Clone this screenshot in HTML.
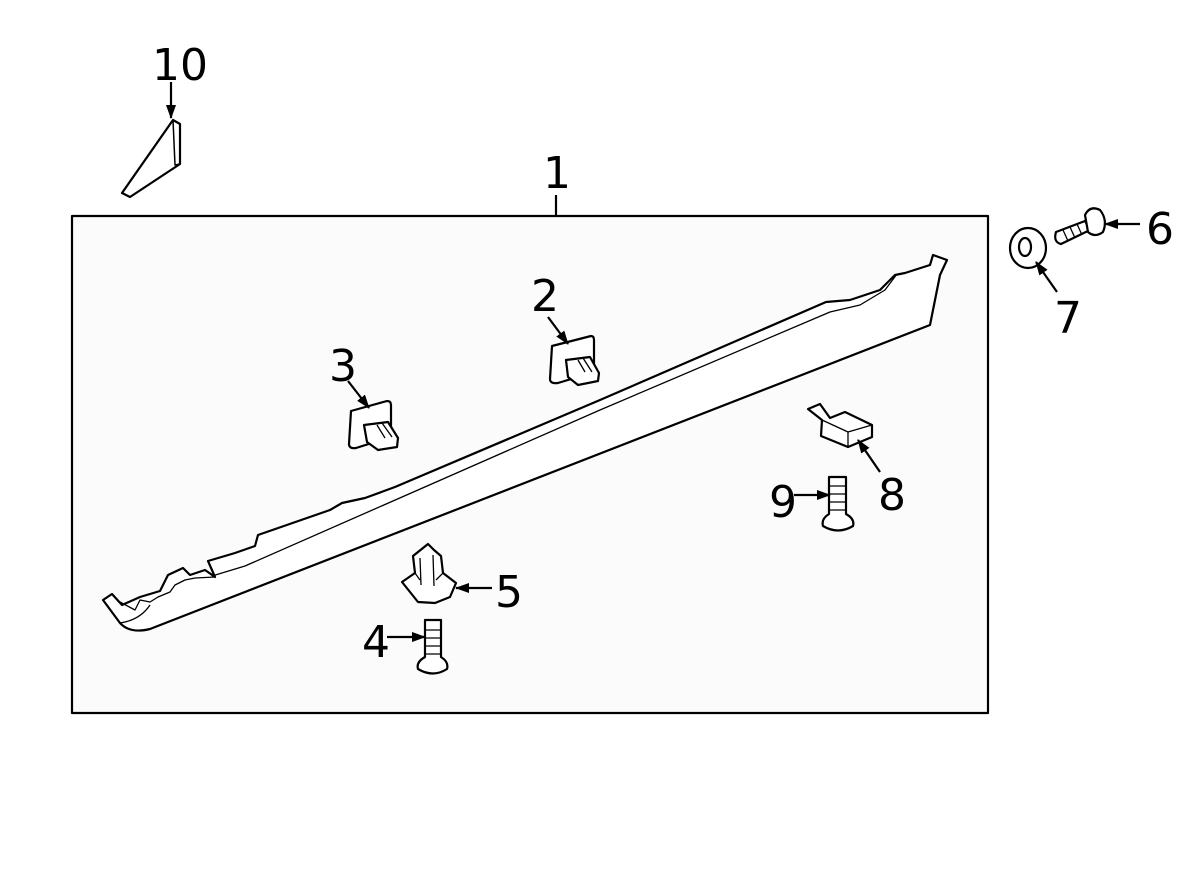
<!DOCTYPE html>
<html><head><style>
html,body{margin:0;padding:0;background:#fff;}
svg{display:block;font-family:"DejaVu Sans","Liberation Sans",sans-serif;}
</style></head><body>
<svg width="1200" height="882" viewBox="0 0 1200 882" xmlns="http://www.w3.org/2000/svg">
<defs><marker id="a" markerWidth="14" markerHeight="12" refX="13" refY="6" orient="auto" markerUnits="userSpaceOnUse"><path d="M0,1 L14,6 L0,11 z" fill="#000"/></marker></defs>
<g stroke="#000" fill="none" stroke-width="2.2" stroke-linejoin="round">
<rect x="72" y="216" width="916" height="497" fill="#fbfbfb"/>
<line x1="556" y1="195" x2="556" y2="216"/>
<path d="M122,193 L173,120 L180,124 L180,164 L130,197 Z" fill="#fff"/>
<path d="M173,120 L175,165 L180,164" stroke-width="1.5"/>
<line x1="171" y1="82" x2="171" y2="118" marker-end="url(#a)"/>
<path d="M103,600 L112,594 L122,605 L140,597 L160,591 L168,575 L183,568 L190,575 L205,570 L215,577 L208,561 L235,553 L255,546 L258,535 L330,510 L342,503 L365,498 L395,487 L600,400 L826,302 L850,300 L880,290 L895,275 L905,273 L930,265 L933,255 L947,260 L940,275 L932,315 L930,325 L150,629 Q130,634 120,623 Z" fill="#fff"/>
<path d="M212,576 L245,566 L600,410 L830,312 L860,305 L885,290 L897,274" stroke-width="1.3"/>
<path d="M120,602 L135,610 L140,600 L150,602 L158,597 L170,592 L175,585 L185,580 L195,578 L215,577" stroke-width="1.3"/>
<path d="M120,623 Q140,620 150,605" stroke-width="1.3"/>
<path d="M552,346 L591,336 Q594,336 594,340 L594,372 L558,383 Q550,384 550,379 Z" fill="#fff"/>
<path d="M566,360 L590,357 L599,373 L598,381 L578,385 L568,377 Z" fill="#fff"/>
<path d="M578,360 L585,372 M583,358 L592,372" stroke-width="1.3"/>
<line x1="548" y1="317" x2="568" y2="344" marker-end="url(#a)"/>
<path d="M351,411 L387,401 Q391,401 391,405 L391,437 L356,448 Q349,449 349,444 Z" fill="#fff"/>
<path d="M364,425 L388,422 L398,438 L397,447 L378,450 L367,442 Z" fill="#fff"/>
<path d="M377,425 L385,438 M382,423 L392,437" stroke-width="1.3"/>
<line x1="348" y1="381" x2="369" y2="408" marker-end="url(#a)"/>
<path d="M402,582 L415,573 L413,556 L423,548 L428,544 L434,550 L441,556 L443,573 L456,583 L450,597 L435,603 L418,602 Z" fill="#fff"/>
<path d="M420,558 L421,585 M433,555 L434,586 M415,573 L420,580 M443,573 L436,580" stroke-width="1.3"/>
<line x1="492" y1="588" x2="456" y2="588" marker-end="url(#a)"/>
<path d="M425,620 L441,620 L441,657 Q449,662 447,669 Q433,678 418,669 Q416,662 425,657 Z" fill="#fff"/>
<path d="M425,630 L441,630 M425,638 L441,638 M425,646 L441,646 M425,654 L441,654" stroke-width="1.3"/>
<line x1="387" y1="637" x2="425" y2="637" marker-end="url(#a)"/>
<path d="M829,477 L846,477 L846,514 Q855,519 853,526 Q838,535 823,526 Q821,519 829,514 Z" fill="#fff"/>
<path d="M829,486 L846,486 M829,494 L846,494 M829,502 L846,502 M829,510 L846,510" stroke-width="1.3"/>
<line x1="794" y1="495" x2="830" y2="495" marker-end="url(#a)"/>
<path d="M808,409 L820,404 L830,418 L845,412 L872,425 L872,437 L848,447 L821,436 L822,420 Z" fill="#fff"/>
<path d="M822,420 L848,432 L872,425 M848,432 L848,447" stroke-width="1.3"/>
<line x1="880" y1="472" x2="858" y2="440" marker-end="url(#a)"/>
<ellipse cx="1028" cy="248" rx="18" ry="20" fill="#fff"/>
<ellipse cx="1025" cy="247" rx="6" ry="9" fill="#fff"/>
<line x1="1057" y1="292" x2="1036" y2="262" marker-end="url(#a)"/>
<path d="M1056,232 L1085,221 L1090,230 L1061,244 Q1053,242 1056,232 Z" fill="#fff"/>
<path d="M1063,230 L1068,241 M1070,227 L1075,238 M1077,224 L1082,235" stroke-width="1.3"/>
<path d="M1085,215 Q1090,205 1100,210 Q1108,220 1103,232 Q1095,238 1088,232 Z" fill="#fff"/>
<line x1="1140" y1="224" x2="1105" y2="224" marker-end="url(#a)"/>
</g>
<g font-size="44" fill="#000" text-anchor="middle">
<text x="180" y="80">10</text>
<text x="557" y="188">1</text>
<text x="545" y="311">2</text>
<text x="343" y="381">3</text>
<text x="376" y="657">4</text>
<text x="509" y="607">5</text>
<text x="1160" y="244">6</text>
<text x="1068" y="333">7</text>
<text x="892" y="510">8</text>
<text x="783" y="517">9</text>
</g>
</svg>
</body></html>
